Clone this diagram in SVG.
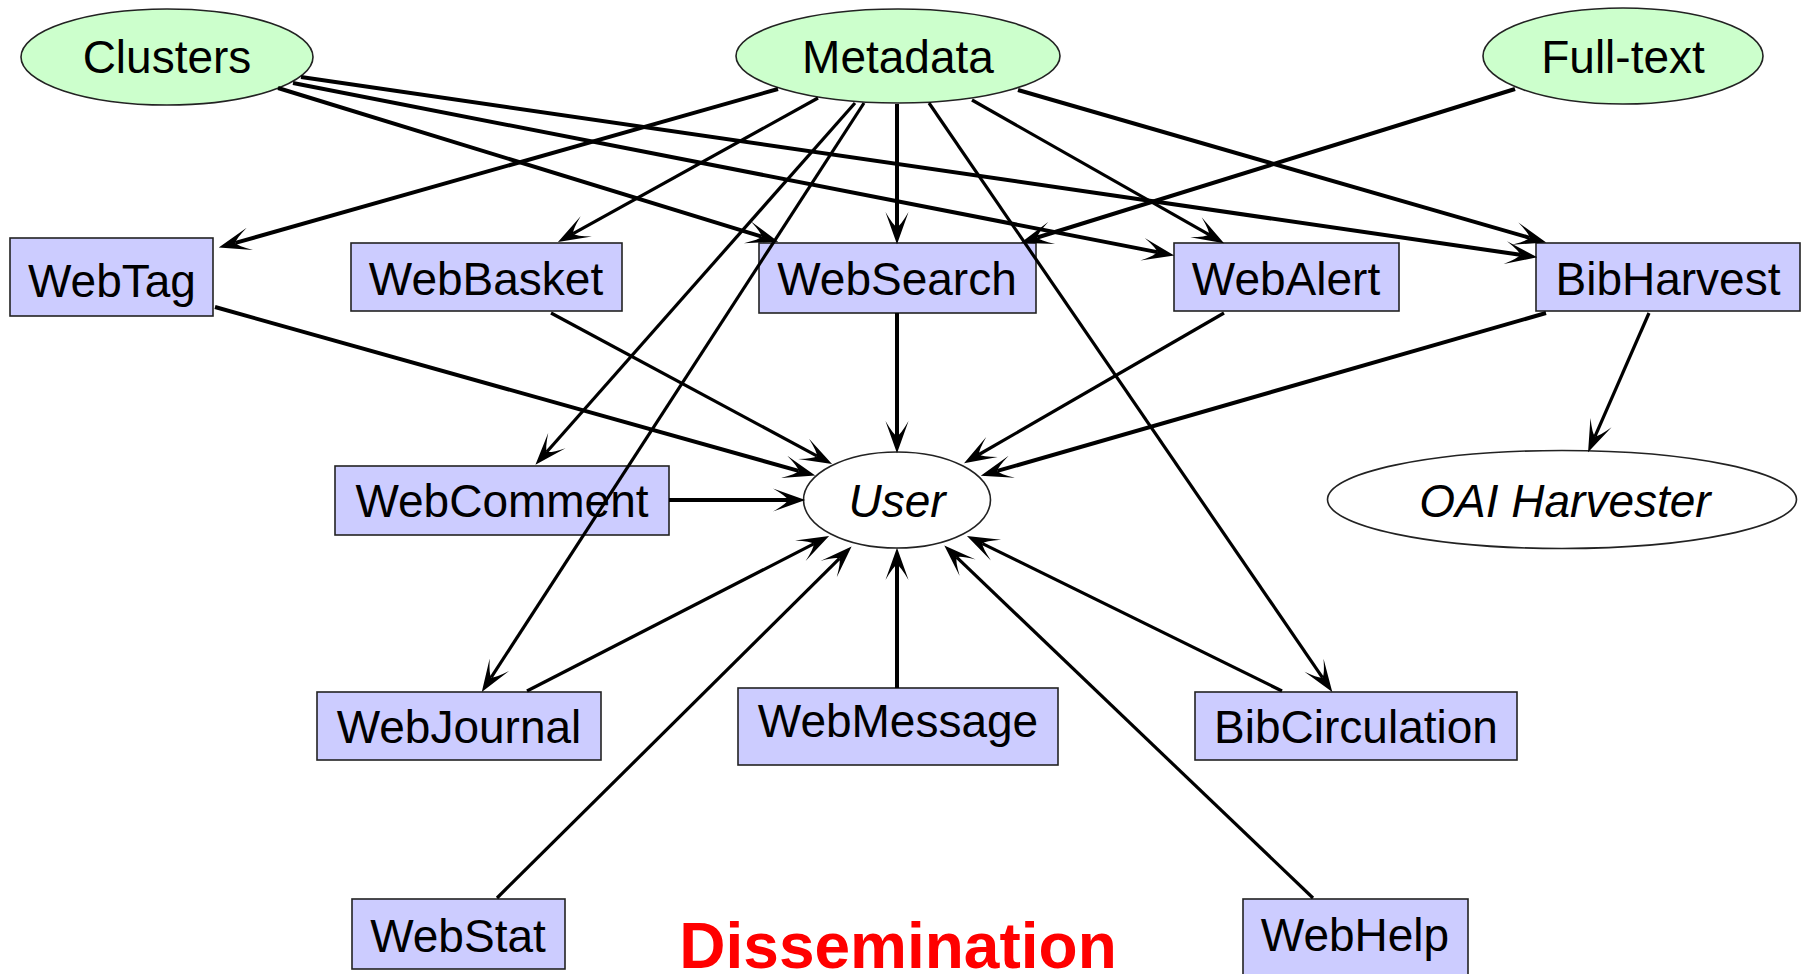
<svg xmlns="http://www.w3.org/2000/svg" width="1802" height="974" viewBox="0 0 1802 974">
<style>
.src ellipse{fill:#ccffcc;stroke:#222;stroke-width:1.6}
.box rect{fill:#ccccff;stroke:#222;stroke-width:1.6}
.sink ellipse{fill:#ffffff;stroke:#222;stroke-width:1.6}
text{font-family:"Liberation Sans",Arial,Helvetica,sans-serif;font-size:46px;fill:#000;text-anchor:middle}
.it{font-style:italic}
.title{font-weight:bold;fill:#ff0000;font-size:64px}
#edges line{stroke:#000;stroke-width:4;marker-end:url(#ah)}
#edges line.t{stroke-width:3.2}
</style>
<defs>
<marker id="ah" markerUnits="userSpaceOnUse" markerWidth="40" markerHeight="30" refX="13" refY="0" viewBox="-2 -13 34 26" orient="auto" overflow="visible">
<path d="M0,-10 L28,0 L0,10 Q12,3 13,0 Q12,-3 0,-10 Z" fill="#000"/>
</marker>
</defs>
<rect width="1802" height="974" fill="#fff"/>
<g id="Clusters" class="src"><ellipse cx="167" cy="57" rx="146" ry="48"/><text x="167" y="73">Clusters</text></g>
<g id="Metadata" class="src"><ellipse cx="898" cy="56" rx="162" ry="47"/><text x="898" y="73">Metadata</text></g>
<g id="Full-text" class="src"><ellipse cx="1623" cy="56" rx="140" ry="48"/><text x="1623" y="73">Full-text</text></g>
<g id="WebTag" class="box"><rect x="10" y="238" width="203" height="78"/><text x="112" y="297">WebTag</text></g>
<g id="WebBasket" class="box"><rect x="351" y="243" width="271" height="68"/><text x="486" y="295">WebBasket</text></g>
<g id="WebSearch" class="box"><rect x="759" y="243" width="277" height="70"/><text x="897" y="295">WebSearch</text></g>
<g id="WebAlert" class="box"><rect x="1174" y="243" width="225" height="68"/><text x="1286" y="295">WebAlert</text></g>
<g id="BibHarvest" class="box"><rect x="1536" y="243" width="264" height="68"/><text x="1668" y="295">BibHarvest</text></g>
<g id="WebComment" class="box"><rect x="335" y="466" width="334" height="69"/><text x="502" y="517">WebComment</text></g>
<g id="User" class="sink"><ellipse cx="897" cy="500" rx="93.5" ry="48"/><text class="it" x="897" y="517">User</text></g>
<g id="OAIHarvester" class="sink"><ellipse cx="1562" cy="499.5" rx="234.5" ry="49"/><text class="it" x="1565" y="517">OAI Harvester</text></g>
<g id="WebJournal" class="box"><rect x="317" y="692" width="284" height="68"/><text x="459" y="743">WebJournal</text></g>
<g id="WebMessage" class="box"><rect x="738" y="688" width="320" height="77"/><text x="898" y="737">WebMessage</text></g>
<g id="BibCirculation" class="box"><rect x="1195" y="692" width="322" height="68"/><text x="1356" y="743">BibCirculation</text></g>
<g id="WebStat" class="box"><rect x="352" y="899" width="213" height="70"/><text x="458" y="952">WebStat</text></g>
<g id="WebHelp" class="box"><rect x="1243" y="899" width="225" height="80"/><text x="1355" y="951">WebHelp</text></g>
<g id="edges">
<line x1="278" y1="88" x2="761.7" y2="236.6"/>
<line x1="293" y1="83" x2="1157.3" y2="252.1"/>
<line x1="301" y1="77" x2="1520.2" y2="254.8"/>
<line x1="778" y1="89" x2="235.4" y2="242.9"/>
<line class="t" x1="818" y1="98" x2="573.1" y2="233.7"/>
<line class="t" x1="855" y1="103" x2="546.9" y2="451.8"/>
<line class="t" x1="864" y1="103" x2="491.2" y2="677.4"/>
<line x1="897" y1="104" x2="897" y2="227"/>
<line class="t" x1="929" y1="103" x2="1322.5" y2="677.6"/>
<line class="t" x1="972" y1="100" x2="1209" y2="234.6"/>
<line x1="1018" y1="90" x2="1529.6" y2="237.8"/>
<line x1="1515" y1="89" x2="1037.3" y2="237.5"/>
<line x1="215" y1="307" x2="798.6" y2="470.9"/>
<line class="t" x1="551" y1="313" x2="816.8" y2="455.9"/>
<line x1="897" y1="313" x2="897" y2="436"/>
<line class="t" x1="1224" y1="313" x2="979" y2="454.5"/>
<line x1="1546" y1="313" x2="997.4" y2="470.9"/>
<line class="t" x1="1649" y1="313" x2="1595" y2="436.3"/>
<line x1="669" y1="500" x2="788" y2="500"/>
<line class="t" x1="527" y1="691" x2="813.7" y2="543.9"/>
<line class="t" x1="497" y1="898" x2="839.3" y2="558.6"/>
<line x1="897" y1="688" x2="897" y2="565"/>
<line class="t" x1="1282" y1="691" x2="982.5" y2="543.6"/>
<line class="t" x1="1313" y1="898" x2="956.8" y2="557.4"/>
</g>
<text class="title" x="898" y="968">Dissemination</text>
</svg>
